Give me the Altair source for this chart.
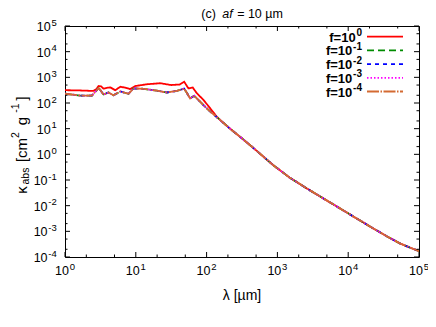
import altair as alt
import pandas as pd

# ---------------- data ----------------
# wavelength [µm] and kappa_abs [cm^2 g^-1]
lam_f0 = [1.0, 1.58, 2.51, 2.75, 2.98, 3.24, 3.50, 3.89, 4.36, 5.12, 6.03, 7.08, 8.32, 9.77,
          14.4, 22.1, 31.6, 41.7, 48.2, 55.3, 63.8, 72.8, 90.2, 112, 139, 155, 214, 295, 457,
          871, 1479, 2570, 4467, 7586, 13183, 22387, 35481, 53703, 74131, 100000]
kap_f0 = [316, 309, 295, 339, 457, 447, 363, 389, 407, 316, 427, 398, 347, 457,
          537, 589, 501, 525, 676, 372, 398, 240, 132, 63, 29.5, 21.9, 10.0, 4.9, 1.78,
          0.38, 0.126, 0.0479, 0.0191, 0.00794, 0.00316, 0.00132, 0.00063, 0.000339,
          0.000234, 0.00017]

lam_small = [1.0, 1.64, 2.40, 2.69, 2.98, 3.16, 3.50, 4.12, 4.84, 6.03, 7.89, 9.29, 12.9,
             19.9, 27.5, 38.0, 48.2, 52.5, 58.5, 66.7, 80.9, 106, 155, 214, 295, 457, 871,
             1479, 2570, 4467, 7586, 13183, 22387, 35481, 53703, 74131, 100000]
kap_fm1 = [229, 195, 195, 275, 380, 316, 214, 257, 200, 282, 229, 372, 355,
           302, 257, 295, 363, 251, 151, 191, 112, 53.7, 21.9, 10.0, 4.9, 1.78, 0.38,
           0.126, 0.0479, 0.0191, 0.00794, 0.00316, 0.00132, 0.00063, 0.000339, 0.000234, 0.00017]
kap_fm2 = list(kap_fm1)   # indistinguishable from f=1e-1 in the reference
kap_fm3 = list(kap_fm1)
kap_fm4 = list(kap_fm1)

series_base = ["f=10", "f=10", "f=10", "f=10", "f=10"]
series_exp = ["0", "-1", "-2", "-3", "-4"]
series_lams = [lam_f0, lam_small, lam_small, lam_small, lam_small]
series_kaps = [kap_f0, kap_fm1, kap_fm2, kap_fm3, kap_fm4]

x_ticks = [1, 10, 100, 1000, 1e4, 1e5]
x_tick_exp = ["0", "1", "2", "3", "4", "5"]
y_ticks = [1e-4, 1e-3, 1e-2, 1e-1, 1, 10, 100, 1000, 1e4, 1e5]
y_tick_exp = ["-4", "-3", "-2", "-1", "0", "1", "2", "3", "4", "5"]
x_minor = [m * d for d in [1, 10, 100, 1000, 1e4] for m in (2, 5)]
y_minor = [m * d for d in [1e-4, 1e-3, 1e-2, 1e-1, 1, 10, 100, 1000, 1e4] for m in (2, 5)]

# ---------------- styles ----------------
colors = ["#ff0000", "#008c00", "#0000ff", "#ff00ff", "#d46a32"]
dashes = [[1, 0], [7, 4], [4, 4], [1.5, 2], [12, 1.5, 1.5, 1.5]]
LW = 1.8
W, H = 354, 231
FONT = "Liberation Sans"
FS_LAB, FS_EXP = 12.5, 9.5
GAP = 0.8


def text_w(s, fs):
    widths = {"-": 0.333, "f": 0.333, "=": 0.584}
    return sum(widths.get(c, 0.556) for c in s) * fs


xs = alt.Scale(type="log", domain=[1, 1e5], nice=False)
ys = alt.Scale(type="log", domain=[1e-4, 1e5], nice=False)


def X(field):
    return alt.X(field, scale=xs, axis=None)


def Y(field):
    return alt.Y(field, scale=ys, axis=None)


layers = []
for i in range(5):
    df = pd.DataFrame({"lam": series_lams[i], "kap": series_kaps[i]})
    layers.append(
        alt.Chart(df).mark_line(color=colors[i], strokeDash=dashes[i], strokeWidth=LW, clip=True)
        .encode(x=X("lam:Q"), y=Y("kap:Q"), order=alt.Order("lam:Q"))
    )


# inward ticks on all four sides
def xtick_layer(vals, length, top):
    df = pd.DataFrame({"lam": vals})
    y0, y1 = (0, length) if top else (H, H - length)
    return alt.Chart(df).mark_rule(color="black", strokeWidth=1).encode(
        x=X("lam:Q"), y=alt.value(y0), y2=alt.value(y1))


def ytick_layer(vals, length, right):
    df = pd.DataFrame({"kap": vals})
    x0, x1 = (W, W - length) if right else (0, length)
    return alt.Chart(df).mark_rule(color="black", strokeWidth=1).encode(
        y=Y("kap:Q"), x=alt.value(x0), x2=alt.value(x1))


tick_layers = [
    xtick_layer(x_ticks, 5, False), xtick_layer(x_ticks, 5, True),
    xtick_layer(x_minor, 2.5, False), xtick_layer(x_minor, 2.5, True),
    ytick_layer(y_ticks, 5, False), ytick_layer(y_ticks, 5, True),
    ytick_layer(y_minor, 2.5, False), ytick_layer(y_minor, 2.5, True),
]

# ---- tick labels as 10 + raised exponent ----
w10 = text_w("10", FS_LAB)
wexp1 = text_w("0", FS_EXP)
xdf = pd.DataFrame({"lam": x_ticks, "b": ["10"] * len(x_ticks), "e": x_tick_exp})
xoff = (w10 - wexp1 - GAP) / 2
xlab_layers = [
    alt.Chart(xdf).mark_text(align="right", baseline="alphabetic", fontSize=FS_LAB, dx=xoff,
                             color="black").encode(x=X("lam:Q"), y=alt.value(H + 18), text="b:N"),
    alt.Chart(xdf).mark_text(align="left", baseline="alphabetic", fontSize=FS_EXP, dx=xoff + GAP,
                             color="black").encode(x=X("lam:Q"), y=alt.value(H + 12.5), text="e:N"),
]

YR = -9
ydf = pd.DataFrame({"kap": y_ticks, "b": ["10"] * len(y_ticks), "e": y_tick_exp})
ydf["px"] = [YR - text_w(e, FS_EXP) for e in y_tick_exp]
ydf["pe"] = ydf["px"] + GAP
ylab_layers = [
    alt.Chart(ydf).mark_text(align="right", baseline="alphabetic", fontSize=FS_LAB, dy=5,
                             color="black").encode(x=alt.X("px:Q", scale=None), y=Y("kap:Q"), text="b:N"),
    alt.Chart(ydf).mark_text(align="left", baseline="alphabetic", fontSize=FS_EXP, dy=-0.5,
                             color="black").encode(x=alt.X("pe:Q", scale=None), y=Y("kap:Q"), text="e:N"),
]

# ---- legend (top right, labels left of samples) ----
LR = 297
ldf = pd.DataFrame({"b": series_base, "e": series_exp})
ldf["row"] = [10.7 + 13.7 * i for i in range(5)]
ldf["px"] = [LR - text_w(e, 10) - GAP for e in series_exp]
ldf["pe"] = ldf["px"] + GAP
ldf["yb"] = ldf["row"] + 5
ldf["ye"] = ldf["row"] - 0.5
legend_layers = [
    alt.Chart(ldf).mark_text(align="right", baseline="alphabetic", fontSize=13, fontWeight="bold",
                             color="black").encode(
        x=alt.X("px:Q", scale=None), y=alt.Y("yb:Q", scale=None), text="b:N"),
    alt.Chart(ldf).mark_text(align="left", baseline="alphabetic", fontSize=10, fontWeight="bold",
                             color="black").encode(
        x=alt.X("pe:Q", scale=None), y=alt.Y("ye:Q", scale=None), text="e:N"),
]
for i in range(5):
    legend_layers.append(
        alt.Chart(ldf.iloc[[i]]).mark_rule(color=colors[i], strokeDash=dashes[i], strokeWidth=LW)
        .encode(x=alt.value(302), x2=alt.value(338), y=alt.Y("row:Q", scale=None)))

# ---- title: (c) af = 10 µm  with italic "af" ----
title_parts = [("(c)", 143.5, "normal"), ("af", 162.5, "italic"), ("= 10 \u00b5m", 195, "normal")]
title_layers = [
    alt.Chart(pd.DataFrame({"t": [t]})).mark_text(
        align="center", baseline="alphabetic", fontSize=12.5, fontStyle=st, color="black"
    ).encode(text="t:N", x=alt.value(xc), y=alt.value(-8))
    for t, xc, st in title_parts
]

# ---- x-axis title ----
xtitle_layer = alt.Chart(pd.DataFrame({"t": ["\u03bb [\u00b5m]"]})).mark_text(
    align="center", baseline="alphabetic", fontSize=14, color="black"
).encode(text="t:N", x=alt.value(W / 2), y=alt.value(274))

# ---- y-axis title: κ_abs [cm^2 g^-1] (rotated) ----
ytitle_parts = [
    ("\u03ba", 164, 15, -38.5),
    ("abs", 150, 10.5, -36.5),
    ("[cm", 124, 15, -38.5),
    ("2", 109, 10.5, -46),
    ("g", 95, 15, -38.5),
    ("-1", 82, 10.5, -46),
    ("]", 72.5, 15, -38.5),
]
ytitle_layers = [
    alt.Chart(pd.DataFrame({"t": [t]})).mark_text(
        align="center", baseline="alphabetic", angle=270, fontSize=fs, color="black"
    ).encode(text="t:N", x=alt.value(xb), y=alt.value(yc))
    for t, yc, fs, xb in ytitle_parts
]

chart = alt.layer(*layers, *tick_layers, *xlab_layers, *ylab_layers, *legend_layers,
                  *title_layers, xtitle_layer, *ytitle_layers).properties(
    width=W, height=H,
    autosize=alt.AutoSizeParams(type="none"),
    padding={"left": 57, "top": 18, "right": 9, "bottom": 61},
    background="white",
).configure_view(stroke="black", strokeWidth=1).configure_text(font=FONT)

chart.save("out.html", embed_options={"renderer": "svg", "actions": False})
